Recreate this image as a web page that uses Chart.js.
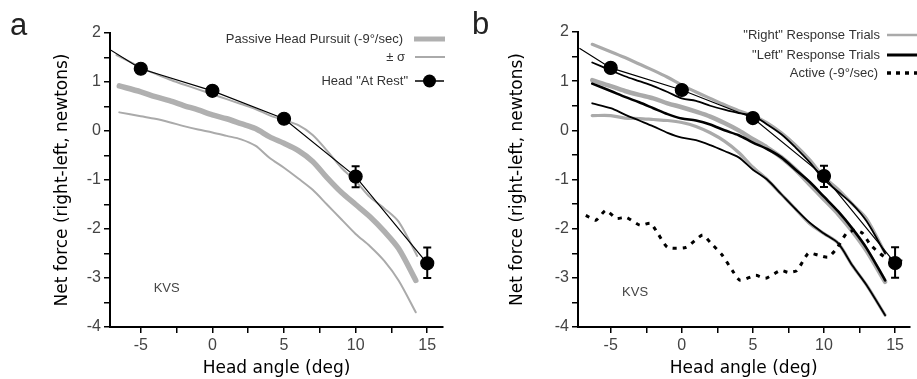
<!DOCTYPE html>
<html>
<head>
<meta charset="utf-8">
<script src="https://cdn.jsdelivr.net/npm/chart.js@4"></script>
<style>
body { margin: 0; background: #fff; width: 917px; height: 379px; position: relative; overflow: hidden; font-family: "Liberation Sans", Arial, sans-serif; }
.box { position: absolute; top: 0; height: 379px; }
#boxA { left: 0; width: 460px; }
#boxB { left: 460px; width: 457px; }
.letter { position: absolute; font-size: 31px; color: #222; line-height: 1; }
</style>
</head>
<body>
<div class="box" id="boxA"><canvas id="chartA"></canvas></div>
<div class="box" id="boxB"><canvas id="chartB"></canvas></div>
<div class="letter" style="left:10px;top:9px">a</div>
<div class="letter" style="left:472px;top:8px">b</div>
<script>
// head "at rest" points (same in both panels); first point is just the line start
const restAngle = [-7.2, -5, 0, 5, 10, 15];
const restForce = [1.67, 1.27, 0.82, 0.25, -0.93, -2.7];
const restErrHi = [null, null, null, null, -0.72, -2.38];
const restErrLo = [null, null, null, null, -1.15, -3.0];

// panel a - passive head pursuit
const angleA = [-6.5, -5, -4, -3, -2, -1, 0, 1, 2, 3, 4, 5, 6, 7, 8, 9, 10, 11, 12, 13, 14.2];
const passiveMean = [0.92, 0.8, 0.7, 0.62, 0.52, 0.43, 0.33, 0.25, 0.15, 0.05, -0.12, -0.25, -0.4, -0.62, -0.95, -1.25, -1.5, -1.75, -2.05, -2.4, -3.05];
const passiveLow = [0.38, 0.3, 0.25, 0.18, 0.1, 0.03, -0.03, -0.1, -0.17, -0.3, -0.55, -0.75, -0.97, -1.2, -1.5, -1.8, -2.1, -2.35, -2.65, -3.05, -3.7];
const angleAUp = [-6.7, -5, -4, -3, -2, -1, 0, 1, 2, 3, 4, 5, 6, 7, 8, 9, 10, 11, 12, 13, 14.3];
const passiveHigh = [1.55, 1.3, 1.17, 1.05, 0.95, 0.85, 0.75, 0.65, 0.55, 0.45, 0.32, 0.22, 0.12, -0.08, -0.4, -0.75, -1.02, -1.35, -1.58, -1.85, -2.55];

// panel b - response trials
const angleB = [-6.3, -5, -4, -3, -2, -1, 0, 1, 2, 3, 4, 5, 6, 7, 8, 9, 10, 11, 12, 13, 14.3];
const rightHigh = [1.75, 1.6, 1.48, 1.35, 1.22, 1.08, 0.92, 0.78, 0.65, 0.52, 0.4, 0.3, 0.15, -0.05, -0.3, -0.6, -0.95, -1.2, -1.5, -1.8, -2.5];
const rightMean = [1.02, 0.9, 0.8, 0.72, 0.65, 0.55, 0.47, 0.38, 0.28, 0.15, 0.0, -0.18, -0.35, -0.55, -0.8, -1.1, -1.4, -1.7, -2.05, -2.45, -3.08];
const rightLow = [0.3, 0.3, 0.25, 0.24, 0.22, 0.2, 0.16, 0.08, -0.05, -0.22, -0.45, -0.75, -1.0, -1.3, -1.6, -1.9, -2.1, -2.3, -2.75, -3.15, -3.76];
const leftHigh = [1.38, 1.22, 1.1, 1.0, 0.9, 0.78, 0.65, 0.6, 0.5, 0.42, 0.35, 0.3, 0.12, -0.08, -0.35, -0.65, -1.0, -1.25, -1.5, -1.85, -2.5];
const leftMean = [0.95, 0.8, 0.68, 0.57, 0.45, 0.33, 0.24, 0.2, 0.12, 0.0, -0.1, -0.25, -0.38, -0.55, -0.8, -1.05, -1.35, -1.65, -2.0, -2.4, -3.05];
const leftLow = [0.55, 0.45, 0.32, 0.2, 0.08, -0.05, -0.15, -0.2, -0.3, -0.42, -0.55, -0.8, -1.0, -1.3, -1.6, -1.88, -2.1, -2.3, -2.75, -3.15, -3.76];

// active (-9 deg/sec)
const activeAngle = [-6.75, -6.05, -5.35, -4.6, -3.9, -2.95, -2.2, -1.7, -1.0, 0.3, 1.45, 2.0, 2.85, 3.55, 4.1, 5.2, 5.9, 6.95, 7.5, 8.1, 8.9, 9.6, 10.3, 10.9, 11.6, 12.2, 12.7, 13.3, 14.3, 15.5];
const activeForce = [-1.73, -1.83, -1.63, -1.79, -1.77, -1.93, -1.89, -2.09, -2.38, -2.38, -2.13, -2.28, -2.54, -2.85, -3.05, -2.95, -3.01, -2.85, -2.89, -2.85, -2.5, -2.54, -2.58, -2.4, -2.09, -2.03, -2.09, -2.34, -2.58, -2.66];

const GRAY = '#aaaaaa';

function pts(xs, ys) {
    return xs.map((x, i) => ({x: x, y: ys[i]}));
}

function lineSet(xs, ys, color, width, order, extra) {
    return Object.assign({
        data: pts(xs, ys),
        showLine: true,
        borderColor: color,
        borderWidth: width,
        pointRadius: 0,
        tension: 0.3,
        borderCapStyle: 'round',
        order: order
    }, extra || {});
}

function restSet() {
    return {
        data: pts(restAngle, restForce),
        showLine: true,
        borderColor: '#000',
        borderWidth: 1.2,
        pointRadius: restAngle.map((v, i) => i === 0 ? 0 : 6.5),
        pointBackgroundColor: '#000',
        pointBorderColor: '#000',
        errHi: restErrHi,
        errLo: restErrLo,
        order: 0
    };
}

// error bars, legend and KVS label
const extras = {
    id: 'extras',
    afterDatasetsDraw(chart) {
        const ctx = chart.ctx;
        const xs = chart.scales.x, ys = chart.scales.y;
        ctx.save();
        chart.data.datasets.forEach(ds => {
            if (!ds.errHi) return;
            ds.data.forEach((p, i) => {
                if (ds.errHi[i] == null) return;
                const px = xs.getPixelForValue(p.x);
                const y1 = ys.getPixelForValue(ds.errHi[i]);
                const y2 = ys.getPixelForValue(ds.errLo[i]);
                ctx.strokeStyle = '#000';
                ctx.lineWidth = 2;
                ctx.beginPath();
                ctx.moveTo(px, y1); ctx.lineTo(px, y2);
                ctx.moveTo(px - 4, y1); ctx.lineTo(px + 4, y1);
                ctx.moveTo(px - 4, y2); ctx.lineTo(px + 4, y2);
                ctx.stroke();
            });
        });
        const o = chart.options.plugins.extras;
        ctx.fillStyle = '#444';
        ctx.font = '13px "Liberation Sans", Arial, sans-serif';
        ctx.textAlign = 'left';
        ctx.textBaseline = 'middle';
        ctx.fillText('KVS', xs.getPixelForValue(o.kvs[0]), ys.getPixelForValue(o.kvs[1]));
        ctx.textAlign = 'right';
        o.legend.forEach(it => {
            ctx.fillStyle = '#333';
            ctx.fillText(it.text, it.tx, it.y);
            ctx.strokeStyle = it.color;
            ctx.lineWidth = it.width;
            ctx.setLineDash(it.dash || []);
            ctx.beginPath();
            ctx.moveTo(it.x0, it.y); ctx.lineTo(it.x1, it.y);
            ctx.stroke();
            ctx.setLineDash([]);
            if (it.dot) {
                ctx.fillStyle = '#000';
                ctx.beginPath();
                ctx.arc((it.x0 + it.x1) / 2, it.y, 6.5, 0, Math.PI * 2);
                ctx.fill();
            }
        });
        ctx.restore();
    }
};

function makeOptions(o) {
    return {
        responsive: true,
        maintainAspectRatio: false,
        animation: false,
        layout: {padding: {left: 0, right: o.padRight, top: o.padTop, bottom: 0}},
        plugins: {
            legend: {display: false},
            tooltip: {enabled: false},
            extras: {kvs: o.kvs, legend: o.legend}
        },
        scales: {
            x: {
                type: 'linear',
                min: o.xMin,
                max: o.xMax,
                afterFit: s => { s.height = 52; },
                grid: {drawOnChartArea: false, drawTicks: true, tickLength: 6, color: '#000', lineWidth: 1.5},
                border: {display: true, color: '#000', width: 2},
                ticks: {
                    stepSize: 2.5,
                    includeBounds: false,
                    autoSkip: false,
                    maxRotation: 0,
                    padding: 3,
                    color: '#444',
                    font: {family: '"Liberation Sans", Arial, sans-serif', size: 16},
                    callback: v => (v % 5 === 0 ? String(v) : '')
                },
                title: {
                    display: true,
                    text: 'Head angle (deg)',
                    color: '#000',
                    font: {family: '"DejaVu Sans", sans-serif', size: 17},
                    padding: {top: o.xTitlePad, bottom: 0}
                }
            },
            y: {
                min: -4,
                max: 2,
                afterFit: s => { s.width = o.yWidth; },
                grid: {drawOnChartArea: false, drawTicks: true, tickLength: 6, color: '#000', lineWidth: 1.5},
                border: {display: true, color: '#000', width: 2},
                ticks: {
                    stepSize: 0.5,
                    maxTicksLimit: 20,
                    autoSkip: false,
                    padding: 3,
                    color: '#444',
                    font: {family: '"Liberation Sans", Arial, sans-serif', size: 16},
                    callback: v => (Number.isInteger(v) ? String(v) : '')
                },
                title: {
                    display: true,
                    text: 'Net force (right-left, newtons)',
                    color: '#000',
                    font: {family: '"DejaVu Sans", sans-serif', size: 17},
                    padding: {top: o.yTitlePad, bottom: 0}
                }
            }
        }
    };
}

new Chart(document.getElementById('chartA'), {
    type: 'scatter',
    data: {
        datasets: [
            restSet(),
            lineSet(angleAUp, passiveHigh, GRAY, 2, 2),
            lineSet(angleA, passiveMean, '#b0b0b0', 5.5, 3),
            lineSet(angleA, passiveLow, GRAY, 2, 2)
        ]
    },
    options: makeOptions({
        padRight: 17, padTop: 33, xMin: -7.15, xMax: 16.1, yWidth: 110,
        xTitlePad: 1, yTitlePad: 52, kvs: [-4.1, -3.22],
        legend: [
            {text: 'Passive Head Pursuit (-9°/sec)', tx: 403, y: 39, x0: 414, x1: 445, color: '#b0b0b0', width: 5},
            {text: '± σ', tx: 405, y: 57, x0: 415, x1: 445, color: GRAY, width: 2},
            {text: 'Head "At Rest"', tx: 408, y: 81, x0: 415, x1: 444, color: '#000', width: 1.5, dot: true}
        ]
    }),
    plugins: [extras]
});

new Chart(document.getElementById('chartB'), {
    type: 'scatter',
    data: {
        datasets: [
            restSet(),
            lineSet(activeAngle, activeForce, '#000', 3, 1, {borderDash: [4, 6], borderCapStyle: 'butt', tension: 0.2}),
            lineSet(angleB, leftHigh, '#000', 1.8, 2),
            lineSet(angleB, leftMean, '#000', 2.6, 2),
            lineSet(angleB, leftLow, '#000', 1.8, 2),
            lineSet(angleB, rightHigh, GRAY, 3.2, 3),
            lineSet(angleB, rightMean, GRAY, 4.5, 3),
            lineSet(angleB, rightLow, GRAY, 3.2, 3)
        ]
    },
    options: makeOptions({
        padRight: 4, padTop: 32, xMin: -7.3, xMax: 16.0, yWidth: 118,
        xTitlePad: 9, yTitlePad: 47, kvs: [-4.2, -3.3],
        legend: [
            {text: '"Right" Response Trials', tx: 420, y: 35, x0: 427, x1: 457, color: GRAY, width: 2.5},
            {text: '"Left" Response Trials', tx: 420, y: 55, x0: 427, x1: 457, color: '#000', width: 3},
            {text: 'Active (-9°/sec)', tx: 418, y: 73, x0: 427, x1: 457, color: '#000', width: 3.5, dash: [4, 5]}
        ]
    }),
    plugins: [extras]
});
</script>
</body>
</html>
